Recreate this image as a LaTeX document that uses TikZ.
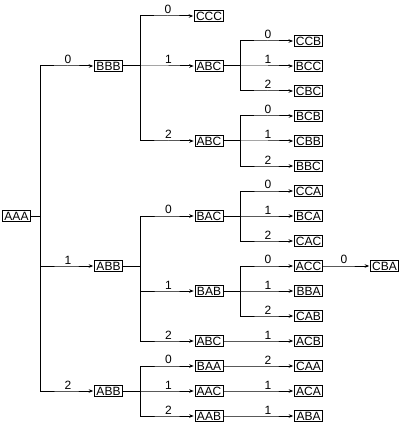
\documentclass[tikz,border=0pt]{standalone}
\usepackage{fontspec}
\setmainfont{Liberation Sans}
\usepackage{tikz}
\usetikzlibrary{arrows.meta}

\begin{document}
\begin{tikzpicture}[
  x=1pt, y=-1pt,
  % State boxes
  state/.style={
    rectangle,
    draw=black,
    line width=1pt,
    inner xsep=1.5pt,
    inner ysep=0pt,
    minimum width=28pt,
    minimum height=11pt,
    font=\fontsize{12}{12}\selectfont
  },
  % Arrow style
  edge/.style={
    -{Stealth[length=4.5pt, width=3.5pt]},
    line width=1pt,
    shorten >=0.8pt
  },
  % Digit labels on the arrows
  lbl/.style={
    above,
    inner sep=1.5pt,
    font=\fontsize{12}{12}\selectfont
  }
]
\useasboundingbox (0,0) rectangle (402,422);

% === NODES ===
\node[state] (aaa) at (16.5,216) {AAA};

\node[state] (bbb)  at (108.5,66)  {BBB};
\node[state] (abb1) at (108.5,266) {ABB};
\node[state] (abb2) at (108.5,391) {ABB};

\node[state] (ccc)  at (209,16)  {CCC};
\node[state] (abc1) at (209,66)  {ABC};
\node[state] (abc2) at (209,141) {ABC};
\node[state] (bac)  at (209,216) {BAC};
\node[state] (bab)  at (209,291) {BAB};
\node[state] (abc3) at (209,341) {ABC};
\node[state] (baa)  at (209,366) {BAA};
\node[state] (aac)  at (209,391) {AAC};
\node[state] (aab)  at (209,416) {AAB};

\node[state] (ccb) at (308.5,41)  {CCB};
\node[state] (bcc) at (308.5,66)  {BCC};
\node[state] (cbc) at (308.5,91)  {CBC};
\node[state] (bcb) at (308.5,116) {BCB};
\node[state] (cbb) at (308.5,141) {CBB};
\node[state] (bbc) at (308.5,166) {BBC};
\node[state] (cca) at (308.5,191) {CCA};
\node[state] (bca) at (308.5,216) {BCA};
\node[state] (cac) at (308.5,241) {CAC};
\node[state] (acc) at (308.5,266) {ACC};
\node[state] (bba) at (308.5,291) {BBA};
\node[state] (cab) at (308.5,316) {CAB};
\node[state] (acb) at (308.5,341) {ACB};
\node[state] (caa) at (308.5,366) {CAA};
\node[state] (aca) at (308.5,391) {ACA};
\node[state] (aba) at (308.5,416) {ABA};

\node[state] (cba) at (384.5,266) {CBA};

% === ARROWS: FIRST LEVEL ===
\draw[edge] (aaa.east) -- ++(9,0) |- ([xshift=-26pt]bbb.west) node[lbl] {0} -- (bbb.west);
\draw[edge] (aaa.east) -- ++(9,0) |- ([xshift=-26pt]abb1.west) node[lbl] {1} -- (abb1.west);
\draw[edge] (aaa.east) -- ++(9,0) |- ([xshift=-26pt]abb2.west) node[lbl] {2} -- (abb2.west);

% === ARROWS: SECOND LEVEL ===
\draw[edge] (bbb.east) -- ++(17.5,0) |- ([xshift=-26pt]ccc.west) node[lbl] {0} -- (ccc.west);
\draw[edge] (bbb.east) -- ++(17.5,0) |- ([xshift=-26pt]abc1.west) node[lbl] {1} -- (abc1.west);
\draw[edge] (bbb.east) -- ++(17.5,0) |- ([xshift=-26pt]abc2.west) node[lbl] {2} -- (abc2.west);

\draw[edge] (abb1.east) -- ++(17.5,0) |- ([xshift=-26pt]bac.west) node[lbl] {0} -- (bac.west);
\draw[edge] (abb1.east) -- ++(17.5,0) |- ([xshift=-26pt]bab.west) node[lbl] {1} -- (bab.west);
\draw[edge] (abb1.east) -- ++(17.5,0) |- ([xshift=-26pt]abc3.west) node[lbl] {2} -- (abc3.west);

\draw[edge] (abb2.east) -- ++(17.5,0) |- ([xshift=-26pt]baa.west) node[lbl] {0} -- (baa.west);
\draw[edge] (abb2.east) -- ++(17.5,0) |- ([xshift=-26pt]aac.west) node[lbl] {1} -- (aac.west);
\draw[edge] (abb2.east) -- ++(17.5,0) |- ([xshift=-26pt]aab.west) node[lbl] {2} -- (aab.west);

% === ARROWS: THIRD LEVEL ===
\draw[edge] (abc1.east) -- ++(17,0) |- ([xshift=-26pt]ccb.west) node[lbl] {0} -- (ccb.west);
\draw[edge] (abc1.east) -- ++(17,0) |- ([xshift=-26pt]bcc.west) node[lbl] {1} -- (bcc.west);
\draw[edge] (abc1.east) -- ++(17,0) |- ([xshift=-26pt]cbc.west) node[lbl] {2} -- (cbc.west);

\draw[edge] (abc2.east) -- ++(17,0) |- ([xshift=-26pt]bcb.west) node[lbl] {0} -- (bcb.west);
\draw[edge] (abc2.east) -- ++(17,0) |- ([xshift=-26pt]cbb.west) node[lbl] {1} -- (cbb.west);
\draw[edge] (abc2.east) -- ++(17,0) |- ([xshift=-26pt]bbc.west) node[lbl] {2} -- (bbc.west);

\draw[edge] (bac.east) -- ++(17,0) |- ([xshift=-26pt]cca.west) node[lbl] {0} -- (cca.west);
\draw[edge] (bac.east) -- ++(17,0) |- ([xshift=-26pt]bca.west) node[lbl] {1} -- (bca.west);
\draw[edge] (bac.east) -- ++(17,0) |- ([xshift=-26pt]cac.west) node[lbl] {2} -- (cac.west);

\draw[edge] (bab.east) -- ++(17,0) |- ([xshift=-26pt]acc.west) node[lbl] {0} -- (acc.west);
\draw[edge] (bab.east) -- ++(17,0) |- ([xshift=-26pt]bba.west) node[lbl] {1} -- (bba.west);
\draw[edge] (bab.east) -- ++(17,0) |- ([xshift=-26pt]cab.west) node[lbl] {2} -- (cab.west);

\draw[edge] (abc3.east) -- ([xshift=-26pt]acb.west) node[lbl] {1} -- (acb.west);
\draw[edge] (baa.east) -- ([xshift=-26pt]caa.west) node[lbl] {2} -- (caa.west);
\draw[edge] (aac.east) -- ([xshift=-26pt]aca.west) node[lbl] {1} -- (aca.west);
\draw[edge] (aab.east) -- ([xshift=-26pt]aba.west) node[lbl] {1} -- (aba.west);

% === ARROWS: FOURTH LEVEL ===
\draw[edge] (acc.east) -- ([xshift=-26pt]cba.west) node[lbl] {0} -- (cba.west);

\end{tikzpicture}
\end{document}
